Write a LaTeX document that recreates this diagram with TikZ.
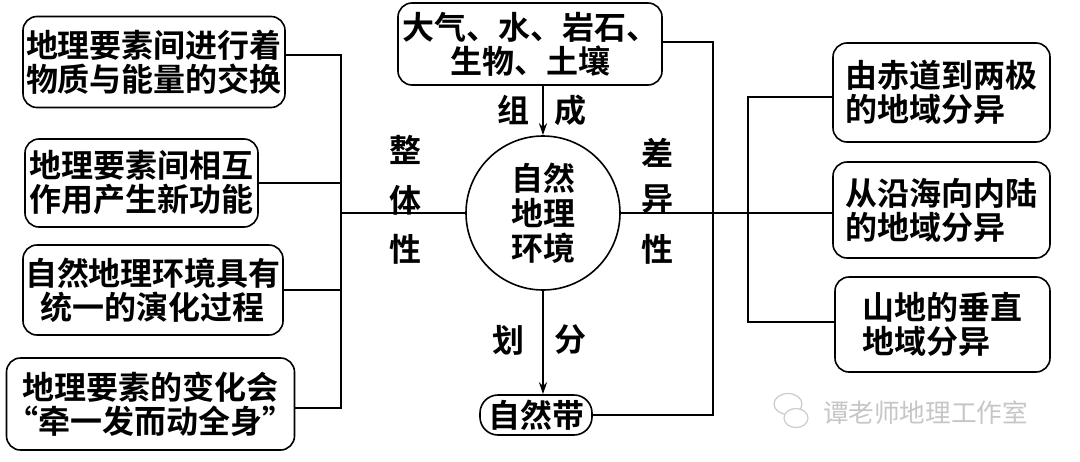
\documentclass[tikz,border=0pt]{standalone}
\usepackage{fontspec}
\newfontfamily\cjk{Noto Sans CJK SC}[BoldFont={Noto Sans CJK SC Bold}]
\usetikzlibrary{arrows.meta}
\begin{document}
\begin{tikzpicture}[x=1pt,y=-1pt,
  every node/.style={font=\cjk\bfseries\fontsize{32}{34}\selectfont},
  box/.style={draw, rounded corners=14pt, line width=1.6pt, inner sep=0pt},
  ln/.style={line width=1.6pt},
  arr/.style={line width=1.6pt, -{Stealth[length=12pt,width=8pt]}},
  lbl/.style={inner sep=0pt},
  wmark/.style={draw=gray!40, line width=1.2pt}]
\useasboundingbox (0,0) rectangle (1080,461);
\fill[white] (0,0) rectangle (1080,461);
% left boxes
\node[box, minimum width=262, minimum height=91, align=center] (b1) at (154,62) {地理要素间进行着\\物质与能量的交换};
\node[box, minimum width=233, minimum height=88, align=center] (b2) at (141.5,183) {地理要素间相互\\作用产生新功能};
\node[box, minimum width=260, minimum height=90, align=center] (b3) at (153,290) {自然地理环境具有\\统一的演化过程};
\node[box, minimum width=275, minimum height=92, align=center] (b4) at (150.5,404) {地理要素的变化会\\“牵一发而动全身”};
% centre
\node[box, minimum width=264, minimum height=82, align=center] (top) at (530,44) {大气、水、岩石、\\生物、土壤};
\node[draw, circle, line width=1.6pt, minimum size=154, inner sep=0pt, align=center, font=\cjk\bfseries\fontsize{32}{35}\selectfont] (circ) at (543,213) {自然\\地理\\环境};
\node[box, rounded corners=18pt, minimum width=112, minimum height=40] (zrd) at (536,415) {自然带};
% right boxes
\node[box, minimum width=217, minimum height=99, align=left] (r1) at (941.5,92.5) {由赤道到两极\\的地域分异};
\node[box, minimum width=217, minimum height=96, align=left] (r2) at (941.5,210) {从沿海向内陆\\的地域分异};
\node[box, minimum width=215, minimum height=95, align=left] (r3) at (942.5,324.5) {山地的垂直\\地域分异};
% labels
\node[lbl] (l1) at (405,150) {整};
\node[lbl] (l2) at (405,200) {体};
\node[lbl] (l3) at (405,249) {性};
\node[lbl] (l4) at (657,153) {差};
\node[lbl] (l5) at (657,199) {异};
\node[lbl] (l6) at (657,249) {性};
\node[lbl] (l7) at (513,110) {组};
\node[lbl] (l8) at (570,110) {成};
\node[lbl] (l9) at (508,340) {划};
\node[lbl] (l10) at (570,340) {分};
% connectors
\coordinate (lt) at (341,55);
\coordinate (lb) at (341,408);
\draw[ln] (b1.east |- lt) -- (lt) -- (lb) -- (b4.east |- lb);
\draw[ln] (b2.east) -- (b2.east -| lt);
\draw[ln] (b3.east) -- (b3.east -| lt);
\draw[ln] (circ.west) -- (circ.west -| lt);
\coordinate (tr) at (713,42);
\draw[ln] (top.east |- tr) -- (tr) |- (zrd.east);
\coordinate (rt) at (748,97);
\coordinate (rb) at (748,322);
\draw[ln] (r1.west |- rt) -- (rt) -- (rb) -- (r3.west |- rb);
\draw[ln] (circ.east) -- (r2.west |- circ.east);
\draw[arr] (top.south -| circ.north) -- (circ.north);
\draw[arr] (circ.south) -- (circ.south |- zrd.north);
% watermark
\draw[wmark] (788,404) ellipse [x radius=14, y radius=10.5];
\fill[white] (796,418) ellipse [x radius=12, y radius=9.5];
\draw[wmark] (796,418) ellipse [x radius=12, y radius=9.5];
\node[inner sep=0pt, text=gray!45, font=\cjk\fontsize{25.6}{28}\selectfont] (wm) at (925.5,413) {谭老师地理工作室};
\end{tikzpicture}
\end{document}
